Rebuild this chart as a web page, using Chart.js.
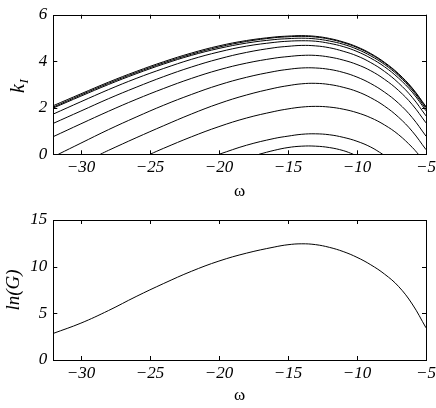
<!DOCTYPE html>
<html><head><meta charset="utf-8">
<script src="https://cdn.jsdelivr.net/npm/chart.js@4.4.0/dist/chart.umd.min.js"></script>
<style>
html,body{margin:0;padding:0;background:#fff;}
#wrap{position:relative;width:436px;height:408px;}
#c1{position:absolute;left:0;top:0;}
#c2{position:absolute;left:0;top:204px;}
</style></head><body>
<div id="wrap"><canvas id="c1" width="436" height="204"></canvas><canvas id="c2" width="436" height="204"></canvas></div>
<script>
// omega grid
const omega = [-32,-30,-28,-26,-24,-22,-20,-18,-16,-15,-14,-13,-12,-11,-10,-9,-8,-7,-6,-5];
// k_I curves (null = outside the curve's range); zero-crossings given separately
const kA = [2.09,2.60,3.10,3.56,3.98,4.35,4.66,4.89,5.04,5.08,5.10,5.07,4.98,4.83,4.62,4.33,3.95,3.47,2.85,2.05];
const kB = [2.03,2.55,3.05,3.51,3.93,4.30,4.61,4.85,5.01,5.05,5.07,5.04,4.95,4.80,4.59,4.30,3.92,3.44,2.82,2.02];
const kC = [1.99,2.50,3.00,3.46,3.88,4.25,4.55,4.78,4.93,4.97,4.99,4.96,4.87,4.73,4.52,4.23,3.86,3.38,2.76,1.95];
const kD = [1.73,2.26,2.78,3.26,3.69,4.08,4.40,4.65,4.81,4.86,4.88,4.86,4.77,4.63,4.42,4.13,3.76,3.28,2.67,1.87];
const kE = [1.33,1.86,2.39,2.88,3.34,3.75,4.10,4.38,4.58,4.64,4.68,4.66,4.58,4.43,4.23,3.94,3.56,3.07,2.45,1.65];
const kF = [0.76,1.31,1.85,2.36,2.83,3.26,3.63,3.92,4.13,4.20,4.25,4.25,4.18,4.05,3.86,3.59,3.22,2.75,2.14,1.35];
const kG = [null,0.48,1.06,1.60,2.11,2.57,2.98,3.31,3.56,3.65,3.71,3.71,3.65,3.52,3.32,3.04,2.67,2.20,1.58,0.78];
const kH = [null,null,0.17,0.71,1.23,1.73,2.18,2.55,2.84,2.95,3.03,3.05,3.00,2.88,2.70,2.43,2.07,1.60,0.99,0.20];
const kI = [null,null,null,null,0.26,0.75,1.19,1.56,1.84,1.95,2.03,2.06,2.03,1.94,1.79,1.57,1.26,0.85,0.30,null];
const kJ = [null,null,null,null,null,null,null,0.39,0.68,0.78,0.86,0.88,0.84,0.73,0.56,0.31,null,null,null,null];
const kK = [null,null,null,null,null,null,null,null,0.17,0.29,0.35,0.35,0.29,0.16,null,null,null,null,null,null];
const kCurves = [kA,kB,kC,kD,kE,kF,kG,kH,kI,kJ,kK];
// where each curve leaves / returns to k_I = 0 (null = does not)
const zeroStart = [null,null,null,null,null,null,-31.64,-28.6,-25.0,-20.0,-17.1];
const zeroEnd   = [null,null,null,null,null,null,null,null,-5.55,-8.13,-10.26];
// ln(G)
const lnG = [2.85,3.95,5.30,6.80,8.20,9.50,10.60,11.45,12.10,12.35,12.45,12.36,12.07,11.62,11.00,10.20,9.20,7.90,6.00,3.45];
// ticks
const xTicks = [-30,-25,-20,-15,-10,-5];
const yTicksTop = [0,2,4,6];
const yTicksBot = [0,5,10,15];

const SERIF = "'Liberation Serif', 'Times New Roman', Times, serif";
Chart.defaults.font.family = SERIF;
Chart.defaults.font.size = 17;
Chart.defaults.font.style = 'italic';
Chart.defaults.color = '#000';
const fmt = v => String(v).replace('-', '\u2212');

function buildPts(vals, zs, ze){
  const pts = [];
  if (zs !== null) pts.push({x: zs, y: 0});
  omega.forEach((w,i)=>{ if (vals[i] !== null) pts.push({x: w, y: vals[i]}); });
  if (ze !== null) pts.push({x: ze, y: 0});
  return pts;
}

const framePlugin = {
  id: 'frame',
  afterDraw(chart){
    const {ctx, chartArea: a, scales} = chart;
    ctx.save();
    ctx.strokeStyle = '#000';
    ctx.lineWidth = 1;
    ctx.strokeRect(Math.round(a.left)+0.5, Math.round(a.top)+0.5, Math.round(a.right)-Math.round(a.left), Math.round(a.bottom)-Math.round(a.top));
    const L = 4;
    ctx.beginPath();
    scales.x.ticks.forEach(t=>{
      const px = Math.round(scales.x.getPixelForValue(t.value))+0.5;
      ctx.moveTo(px, a.bottom); ctx.lineTo(px, a.bottom-L);
      ctx.moveTo(px, a.top); ctx.lineTo(px, a.top+L);
    });
    scales.y.ticks.forEach(t=>{
      const py = Math.round(scales.y.getPixelForValue(t.value))+0.5;
      ctx.moveTo(a.left, py); ctx.lineTo(a.left+L, py);
      ctx.moveTo(a.right, py); ctx.lineTo(a.right-L, py);
    });
    ctx.stroke();
    if (chart.options.plugins.frame && chart.options.plugins.frame.kTitle) {
      ctx.fillStyle = '#000';
      ctx.translate(24, 93);
      ctx.rotate(-Math.PI/2);
      ctx.textBaseline = 'alphabetic';
      ctx.font = 'italic 20px ' + SERIF;
      ctx.fillText('k', 0, 0);
      const w = ctx.measureText('k').width;
      ctx.font = 'italic 13px ' + SERIF;
      ctx.fillText('I', w + 0.5, 4);
    }
    ctx.restore();
  }
};

function makeChart(id, datasets, yMin, yMax, yTicks, yTitle, padTop, plotBottom, kTitle){
  return new Chart(document.getElementById(id), {
    type: 'line',
    data: { datasets },
    options: {
      responsive: false, animation: false, devicePixelRatio: 1,
      layout: { padding: { top: padTop, right: 10, bottom: 0, left: 0 } },
      plugins: { legend: {display:false}, tooltip: {enabled:false}, frame: { kTitle } },
      elements: { point: { radius: 0 } },
      scales: {
        x: {
          type: 'linear', min: -32, max: -5,
          grid: { display: false, drawTicks: false },
          border: { display: false },
          afterBuildTicks: s => { s.ticks = xTicks.map(v=>({value:v})); },
          afterFit: s => { s.height = 204 - plotBottom; s.paddingLeft = 0; s.paddingRight = 0; },
          ticks: { autoSkip: false, maxRotation: 0, padding: 3, color: '#000',
                   font: { family: SERIF, size: 17, style: 'italic' }, callback: fmt },
          title: { display: true, text: '\u03c9', color: '#000', padding: {top:0, bottom:1.8},
                   font: { family: SERIF, size: 17, style: 'normal' } }
        },
        y: {
          type: 'linear', min: yMin, max: yMax,
          grid: { display: false, drawTicks: false },
          border: { display: false },
          afterBuildTicks: s => { s.ticks = yTicks.map(v=>({value:v})); },
          afterFit: s => { s.width = 53.3; s.paddingTop = 0; s.paddingBottom = 0; },
          ticks: { padding: 6, color: '#000',
                   font: { family: SERIF, size: 17, style: 'italic' }, callback: fmt },
          title: { display: yTitle !== null, text: yTitle || '', color: '#000', padding: {top:2.6, bottom:0},
                   font: { family: SERIF, size: 19, style: 'italic' } }
        }
      }
    },
    plugins: [framePlugin]
  });
}

const lineStyle = { borderColor: '#000', borderWidth: 1, fill: false, tension: 0.4, pointRadius: 0 };
const topSets = kCurves.map((c,i)=>Object.assign({ label: 'k' + i, data: buildPts(c, zeroStart[i], zeroEnd[i]) }, lineStyle));
makeChart('c1', topSets, 0, 6, yTicksTop, null, 14.7, 154.3, true);
const botSets = [Object.assign({ label: 'ln(G)', data: buildPts(lnG, null, null) }, lineStyle)];
makeChart('c2', botSets, 0, 15, yTicksBot, 'ln(G)', 16, 156, false);
</script>
</body></html>
